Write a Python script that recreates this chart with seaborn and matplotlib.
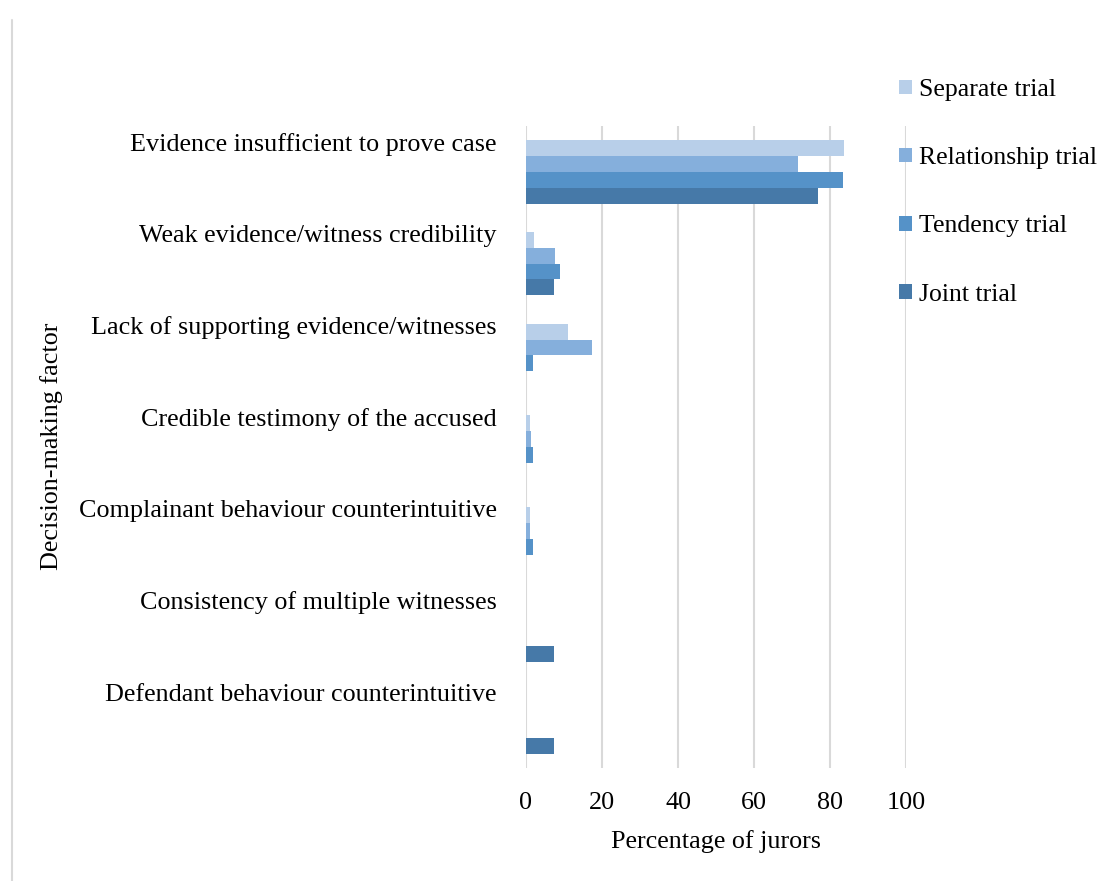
import numpy as np
import pandas as pd
import matplotlib
matplotlib.use('Agg')
import matplotlib.pyplot as plt
import seaborn as sns
from matplotlib.lines import Line2D
from matplotlib.patches import Patch

# data
factors = ['Evidence insufficient to prove case',
           'Weak evidence/witness credibility',
           'Lack of supporting evidence/witnesses',
           'Credible testimony of the accused',
           'Complainant behaviour counterintuitive',
           'Consistency of multiple witnesses',
           'Defendant behaviour counterintuitive']
trials = ['Separate trial', 'Relationship trial', 'Tendency trial', 'Joint trial']
separate = [83.7, 2.1, 11.0, 1.0, 1.0, 0, 0]
relationship = [71.5, 7.6, 17.4, 1.4, 1.0, 0, 0]
tendency = [83.3, 8.9, 1.9, 1.9, 1.9, 0, 0]
joint = [76.7, 7.4, 0, 0, 0, 7.4, 7.4]
colors = ['#B8CFE9', '#85AFDC', '#5592C8', '#4679A8']

rows = []
for trial, vals in zip(trials, [separate, relationship, tendency, joint]):
    for f, v in zip(factors, vals):
        rows.append({'Factor': f, 'Trial': trial, 'Pct': v})
df = pd.DataFrame(rows)

sns.set_style('white')
plt.rcParams['font.family'] = ['Liberation Serif', 'DejaVu Serif']
plt.rcParams['text.color'] = 'black'
plt.rcParams['xtick.color'] = 'black'
plt.rcParams['ytick.color'] = 'black'
plt.rcParams['axes.labelcolor'] = 'black'
fs = 18.8

fig = plt.figure(figsize=(11.05, 8.81), dpi=100)
ax = fig.add_axes([0.476, 0.128, 0.344, 0.729])

sns.barplot(data=df, x='Pct', y='Factor', hue='Trial', order=factors,
            hue_order=trials, palette=colors, orient='h', width=0.69,
            linewidth=0, saturation=1, errorbar=None, legend=False, ax=ax)

ax.set_xlim(0, 100)
ax.set_ylim(len(factors) - 0.5, -0.5)
ax.set_xticks(np.arange(0, 101, 20))
ax.tick_params(axis='x', labelsize=fs, pad=17, length=0)
# category labels sit above the middle of each group, as in the original
ax.set_yticks(np.arange(len(factors)) - 0.33)
ax.set_yticklabels(factors)
ax.tick_params(axis='y', labelsize=fs, pad=21, length=0)
ax.xaxis.grid(True, color='#D9D9D9', linewidth=1.5)
ax.yaxis.grid(False)
ax.set_axisbelow(True)
for s in ax.spines.values():
    s.set_visible(False)

ax.set_xlabel('Percentage of jurors', fontsize=fs, labelpad=12)
ax.set_ylabel('')
fig.text(0.047, 0.493, 'Decision-making factor', rotation=90, fontsize=fs,
         ha='center', va='center')

handles = [Patch(facecolor=c, edgecolor='none') for c in colors]
fig.legend(handles, trials, loc='upper left', bbox_to_anchor=(0.804, 0.922),
           frameon=False, fontsize=18.5, handlelength=0.5, handleheight=0.5,
           handletextpad=0.3, labelspacing=1.8, borderaxespad=0)

# light border line on the left edge
fig.add_artist(Line2D([0.011, 0.011], [0, 0.977], color='#D9D9D9',
                      linewidth=1.5, transform=fig.transFigure))

fig.savefig('out.png', dpi=100)
